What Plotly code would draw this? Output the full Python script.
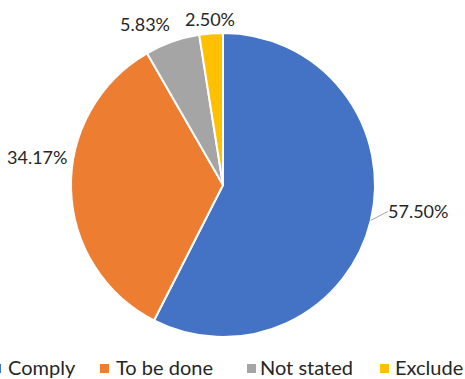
import math
import plotly.graph_objects as go

# Share of items by status
categories = ["Comply", "To be done", "Not stated", "Exclude"]
shares = [57.50, 34.17, 5.83, 2.50]
colors = ["#4472C4", "#ED7D31", "#A5A5A5", "#FFC000"]

W, H = 465, 379
CX, CY, R = 223, 185, 152          # pie centre and radius in pixels
FONT = "Lato"
TEXT_COLOR = "#262626"

# label placement relative to each slice's outer midpoint (pixels, +y down)
label_shift = [(17, -9), (-4, -32), (-27, -18), (-1, -14)]
label_anchor = ["left", "right", "center", "center"]

# legend layout (pixels)
legend_marker_x = [-8, 100, 247, 380]
legend_text_x = [8, 116, 260, 395]
legend_y = 368.5
legend_box = 9


def px(x):
    return x / W


def py(y):
    return 1 - y / H


fig = go.Figure(go.Pie(
    labels=categories,
    values=shares,
    sort=False,
    direction="clockwise",
    rotation=0,
    marker=dict(colors=colors, line=dict(color="white", width=2)),
    textinfo="none",
    hoverinfo="label+percent",
    showlegend=False,
    domain=dict(x=[px(CX - R), px(CX + R)], y=[py(CY + R), py(CY - R)]),
))

annotations = []
total = sum(shares)
cum = 0.0
for i, v in enumerate(shares):
    mid = (cum + v / 2) / total
    cum += v
    th = 2 * math.pi * mid
    ex = CX + R * math.sin(th)
    ey = CY - R * math.cos(th)
    dx, dy = label_shift[i]
    text = f"{v:.2f}%"
    if i == 0:
        # leader line from the slice edge to its label
        annotations.append(dict(
            x=px(ex), y=py(ey), xref="paper", yref="paper",
            text=text, showarrow=True, arrowhead=0, arrowwidth=1,
            arrowcolor="#A6A6A6", ax=dx, ay=dy, xanchor="left",
            yanchor="middle", borderpad=0, borderwidth=0,
            font=dict(family=FONT, size=18, color=TEXT_COLOR),
        ))
    else:
        annotations.append(dict(
            x=px(ex + dx), y=py(ey + dy), xref="paper", yref="paper",
            text=text, showarrow=False, xanchor=label_anchor[i],
            yanchor="middle", borderpad=0, borderwidth=0,
            font=dict(family=FONT, size=18, color=TEXT_COLOR),
        ))

shapes = []
for i, name in enumerate(categories):
    mx = legend_marker_x[i]
    shapes.append(dict(
        type="rect", xref="paper", yref="paper",
        x0=px(mx), x1=px(mx + legend_box),
        y0=py(legend_y + legend_box / 2), y1=py(legend_y - legend_box / 2),
        fillcolor=colors[i], line=dict(width=0),
    ))
    annotations.append(dict(
        x=px(legend_text_x[i]), y=py(legend_y - 1.5), xref="paper", yref="paper",
        text=name, showarrow=False, xanchor="left", yanchor="middle",
        borderpad=0, borderwidth=0,
        font=dict(family=FONT, size=20, color=TEXT_COLOR),
    ))

fig.update_layout(
    width=W, height=H, autosize=False,
    margin=dict(l=0, r=0, t=0, b=0),
    paper_bgcolor="white", plot_bgcolor="white",
    annotations=annotations, shapes=shapes,
)

fig.write_html("out.html")
